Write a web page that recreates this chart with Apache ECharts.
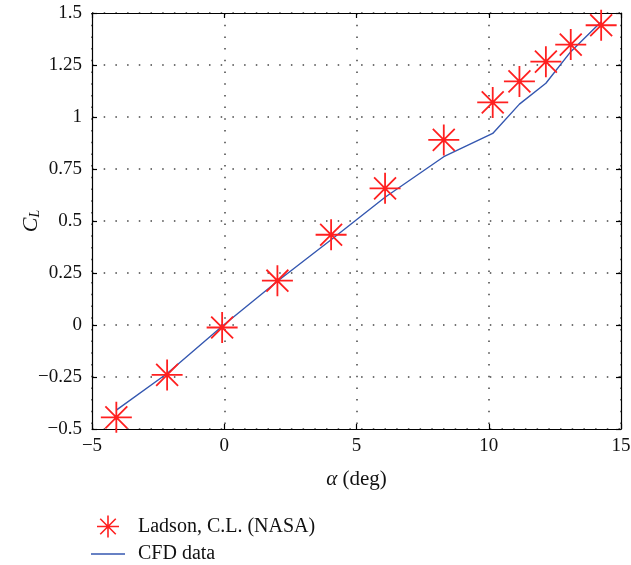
<!DOCTYPE html>
<html>
<head>
<meta charset="utf-8">
<script src="https://cdn.jsdelivr.net/npm/echarts@6/dist/echarts.min.js"></script>
<style>
html,body{margin:0;padding:0;background:#fff;}
#chart{width:631px;height:565px;}
</style>
</head>
<body>
<div id="chart"></div>
<script>
// Data
var ladsonAlpha = [-4.08, -2.16, -0.08, 2.01, 4.04, 6.08, 8.30, 10.15, 11.16, 12.16, 13.10, 14.25];
var ladsonCL    = [-0.444, -0.240, -0.012, 0.213, 0.434, 0.657, 0.890, 1.070, 1.171, 1.266, 1.348, 1.441];
var cfdAlpha    = [-4.08, -2.16, -0.08, 2.01, 4.04, 6.08, 8.30, 10.15, 11.16, 12.16, 13.10, 14.25];
var cfdCL       = [-0.409, -0.233, -0.006, 0.210, 0.410, 0.614, 0.809, 0.921, 1.062, 1.162, 1.314, 1.458];
var xTicks = [-5, 0, 5, 10, 15];
var yTicks = [-0.5, -0.25, 0, 0.25, 0.5, 0.75, 1, 1.25, 1.5];
var seriesNames = ['Ladson, C.L. (NASA)', 'CFD data'];

function zip(a, b) { return a.map(function (v, i) { return [v, b[i]]; }); }
function fmt(v) { return v < 0 ? '\u2212' + String(Math.abs(v)) : String(v); }

var FONT = 'Liberation Serif';
var RED = '#ff2020';
var BLUE = '#3457b0';
var starPath = 'path://M15,0L15,30M0,15L30,15M4.4,4.4L25.6,25.6M4.4,25.6L25.6,4.4';
var linePath = 'path://M0,0L34,0L34,1.4L0,1.4Z';

var chart = echarts.init(document.getElementById('chart'), null, {renderer: 'canvas'});

var axisLineStyle = {color: '#000', width: 1.2};
var gridLineStyle = {color: '#444', width: 1.5, type: [1.5, 10.2]};
var baseX = {
  type: 'value',
  min: xTicks[0], max: xTicks[xTicks.length - 1], interval: 5
};
var baseY = {
  type: 'value',
  min: yTicks[0], max: yTicks[yTicks.length - 1], interval: 0.25
};

var option = {
  backgroundColor: '#fff',
  animation: false,
  textStyle: {fontFamily: FONT},
  grid: {left: 92, top: 13, right: 10, bottom: 136, containLabel: false, outerBoundsMode: 'none'},
  xAxis: [
    Object.assign({}, baseX, {
      position: 'bottom',
      name: '{a|\u03b1} (deg)',
      nameLocation: 'middle',
      nameGap: 40,
      nameTextStyle: {
        fontFamily: FONT, fontSize: 21, color: '#111',
        rich: {a: {fontFamily: FONT, fontSize: 21, fontStyle: 'italic', color: '#111'}}
      },
      axisLine: {show: true, onZero: false, lineStyle: axisLineStyle},
      axisTick: {show: true, inside: true, length: 5, lineStyle: axisLineStyle},
      axisLabel: {show: true, margin: 8, fontFamily: FONT, fontSize: 19, color: '#111', formatter: fmt,
                  showMinLabel: true, showMaxLabel: true},
      splitLine: {show: true, lineStyle: gridLineStyle}
    }),
    Object.assign({}, baseX, {
      position: 'top',
      axisLine: {show: true, onZero: false, lineStyle: axisLineStyle},
      axisTick: {show: true, inside: true, length: 5, lineStyle: axisLineStyle},
      axisLabel: {show: false},
      splitLine: {show: false}
    })
  ],
  yAxis: [
    Object.assign({}, baseY, {
      position: 'left',
      name: '{c|C}{l|L}',
      nameLocation: 'middle',
      nameRotate: 90,
      nameGap: 50,
      nameMoveOverlap: false,
      nameTextStyle: {
        rich: {
          c: {fontFamily: FONT, fontSize: 22, fontStyle: 'italic', color: '#111', lineHeight: 28, verticalAlign: 'bottom'},
          l: {fontFamily: FONT, fontSize: 14, fontStyle: 'italic', color: '#111', lineHeight: 28, verticalAlign: 'bottom', padding: [10, 0, 0, 0]}
        }
      },
      axisLine: {show: true, onZero: false, lineStyle: axisLineStyle},
      axisTick: {show: true, inside: true, length: 5, lineStyle: axisLineStyle},
      axisLabel: {show: true, margin: 10, fontFamily: FONT, fontSize: 19, color: '#111', formatter: fmt,
                  showMinLabel: true, showMaxLabel: true},
      splitLine: {show: true, lineStyle: gridLineStyle}
    }),
    Object.assign({}, baseY, {
      position: 'right',
      axisLine: {show: true, onZero: false, lineStyle: axisLineStyle},
      axisTick: {show: true, inside: true, length: 5, lineStyle: axisLineStyle},
      axisLabel: {show: false},
      splitLine: {show: false}
    })
  ],
  legend: {
    orient: 'vertical',
    left: 91,
    top: 513,
    padding: 0,
    itemWidth: 34,
    itemHeight: 22,
    itemGap: 4,
    symbolKeepAspect: true,
    textStyle: {fontFamily: FONT, fontSize: 20, color: '#111', padding: [0, 0, 0, 8]},
    data: [
      {name: seriesNames[0], icon: starPath, itemStyle: {color: 'none', borderColor: RED, borderWidth: 1.6}},
      {name: seriesNames[1], icon: linePath, itemStyle: {color: BLUE, borderWidth: 0}}
    ]
  },
  series: [
    {
      name: seriesNames[1],
      type: 'line',
      xAxisIndex: 0, yAxisIndex: 0,
      data: zip(cfdAlpha, cfdCL),
      showSymbol: false,
      symbol: 'none',
      lineStyle: {color: BLUE, width: 1.4},
      itemStyle: {color: BLUE},
      z: 3
    },
    {
      name: seriesNames[0],
      type: 'scatter',
      xAxisIndex: 0, yAxisIndex: 0,
      data: zip(ladsonAlpha, ladsonCL),
      symbol: starPath,
      symbolSize: 31,
      symbolKeepAspect: true,
      itemStyle: {color: 'none', borderColor: RED, borderWidth: 1.8, opacity: 1},
      z: 4
    }
  ]
};
chart.setOption(option);
</script>
</body>
</html>
